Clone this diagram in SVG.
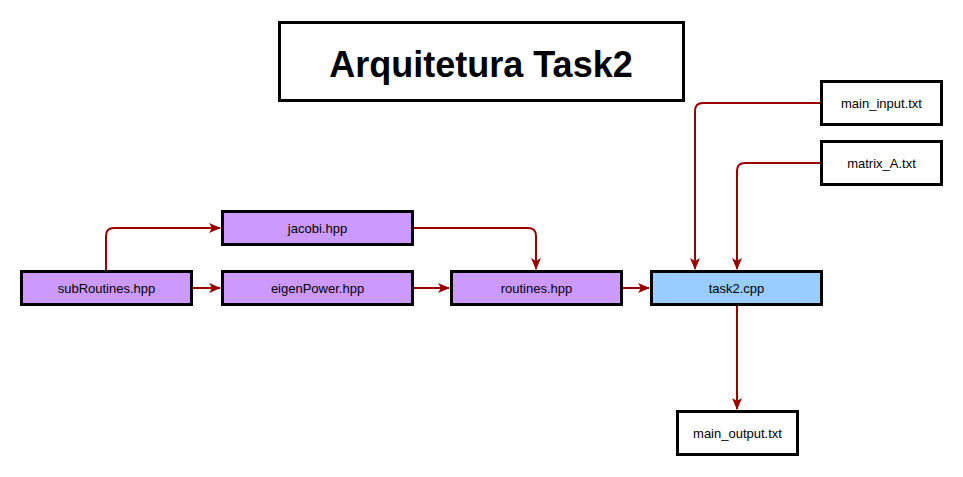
<svg xmlns="http://www.w3.org/2000/svg" width="963" height="477" viewBox="0 0 963 477">
<style>
.box{stroke:#000;stroke-width:3}
.sh{fill:#000;opacity:0.2}
.p{fill:#CC99FF}
.b{fill:#99CCFF}
.w{fill:#fff}
.t{font-family:"Liberation Sans",Arial,sans-serif;font-size:13px;fill:#000;text-anchor:middle}
.c{fill:none;stroke:#990000;stroke-width:2}
</style>
<defs>
<marker id="ar" viewBox="0 0 12 10" refX="11" refY="5" markerWidth="12" markerHeight="10" markerUnits="userSpaceOnUse" orient="auto">
<path d="M0,0 L12,5 L0,10 L3,5 Z" fill="#990000"/>
</marker>
</defs>
<rect width="963" height="477" fill="#fff"/>
<g id="title">
<rect class="sh" x="281" y="24" width="404" height="78"/>
<rect class="box w" x="279.5" y="22.5" width="404" height="78"/>
<text x="481" y="77" font-family="Liberation Sans,Arial,sans-serif" font-size="36" font-weight="bold" text-anchor="middle">Arquitetura Task2</text>
</g>
<g id="connectors">
<path class="c" d="M106,271 V236 Q106,228 114,228 H220" marker-end="url(#ar)"/>
<path class="c" d="M191,288 H220" marker-end="url(#ar)"/>
<path class="c" d="M412,228 H528 Q536,228 536,236 V269" marker-end="url(#ar)"/>
<path class="c" d="M412,288 H449" marker-end="url(#ar)"/>
<path class="c" d="M622,288 H649" marker-end="url(#ar)"/>
<path class="c" d="M821,103 H703 Q695,103 695,111 V269" marker-end="url(#ar)"/>
<path class="c" d="M821,163 H745 Q737,163 737,171 V269" marker-end="url(#ar)"/>
<path class="c" d="M737,305 V409" marker-end="url(#ar)"/>
</g>
<g id="subRoutines">
<rect class="sh" x="23" y="273" width="170" height="33"/>
<rect class="box p" x="21.5" y="271.5" width="170" height="33"/>
<text class="t" x="106.5" y="293">subRoutines.hpp</text>
</g>
<g id="jacobi">
<rect class="sh" x="224" y="213" width="190" height="33"/>
<rect class="box p" x="222.5" y="211.5" width="190" height="33"/>
<text class="t" x="317.5" y="233">jacobi.hpp</text>
</g>
<g id="eigenPower">
<rect class="sh" x="224" y="273" width="190" height="33"/>
<rect class="box p" x="222.5" y="271.5" width="190" height="33"/>
<text class="t" x="317.5" y="293">eigenPower.hpp</text>
</g>
<g id="routines">
<rect class="sh" x="453" y="273" width="170" height="33"/>
<rect class="box p" x="451.5" y="271.5" width="170" height="33"/>
<text class="t" x="536.5" y="293">routines.hpp</text>
</g>
<g id="task2">
<rect class="sh" x="653" y="273" width="170" height="33"/>
<rect class="box b" x="651.5" y="271.5" width="170" height="33"/>
<text class="t" x="736.5" y="293">task2.cpp</text>
</g>
<g id="main_input">
<rect class="sh" x="823" y="83" width="120" height="43"/>
<rect class="box w" x="821.5" y="81.5" width="120" height="43"/>
<text class="t" x="881.5" y="108">main_input.txt</text>
</g>
<g id="matrix_A">
<rect class="sh" x="823" y="143" width="120" height="43"/>
<rect class="box w" x="821.5" y="141.5" width="120" height="43"/>
<text class="t" x="881.5" y="168">matrix_A.txt</text>
</g>
<g id="main_output">
<rect class="sh" x="679" y="413" width="120" height="43"/>
<rect class="box w" x="677.5" y="411.5" width="120" height="43"/>
<text class="t" x="737.5" y="438">main_output.txt</text>
</g>
</svg>
